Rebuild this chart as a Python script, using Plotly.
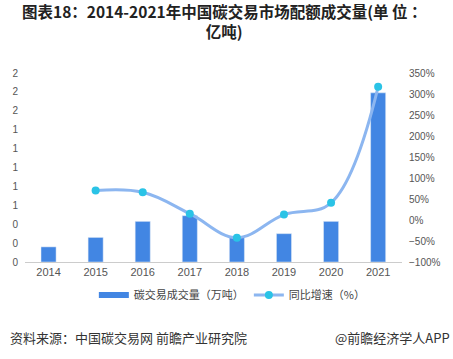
import plotly.graph_objects as go

years = ["2014", "2015", "2016", "2017", "2018", "2019", "2020", "2021"]
volume = [0.16, 0.26, 0.43, 0.49, 0.26, 0.30, 0.43, 1.79]
growth_years = ["2015", "2016", "2017", "2018", "2019", "2020", "2021"]
growth = [70, 66, 15, -42, 13, 41, 317]
left_tickvals = [0, 0.2, 0.4, 0.6, 0.8, 1.0, 1.2, 1.4, 1.6, 1.8, 2.0]
left_ticktext = ["0", "0", "0", "1", "1", "1", "1", "1", "2", "2", "2"]
right_tickvals = [-100, -50, 0, 50, 100, 150, 200, 250, 300, 350]
right_ticktext = ["\u2212100%", "\u221250%", "0%", "50%", "100%", "150%",
                  "200%", "250%", "300%", "350%"]

CJK = "Noto Sans CJK SC, Liberation Sans, sans-serif"
NUM = "Liberation Sans, Arial, sans-serif"
BAR_COLOR = "#4286e3"

fig = go.Figure()
fig.add_trace(go.Bar(
    x=years, y=volume, name="碳交易成交量（万吨）", showlegend=False,
    marker=dict(color=BAR_COLOR), width=0.32, yaxis="y",
))
# legend-only entry giving the wide bar swatch
fig.add_trace(go.Scatter(
    x=[None], y=[None], name="碳交易成交量（万吨）", mode="lines",
    line=dict(color=BAR_COLOR, width=6), yaxis="y",
))
fig.add_trace(go.Scatter(
    x=growth_years, y=growth, name="同比增速（%）", yaxis="y2",
    mode="lines+markers",
    line=dict(color="#8cb6f0", width=3, shape="spline", smoothing=1.1),
    marker=dict(color="#2ac3e6", size=8),
))

fig.update_layout(
    width=453, height=359,
    margin=dict(l=24, r=50, t=73, b=97),
    paper_bgcolor="white", plot_bgcolor="white",
    xaxis=dict(
        type="category", showgrid=False, showline=True, linecolor="#cccccc",
        linewidth=1, ticks="", tickfont=dict(family=NUM, size=11, color="#555"),
    ),
    yaxis=dict(
        range=[0, 2.0], tickvals=left_tickvals, ticktext=left_ticktext,
        showgrid=False, zeroline=False, showline=False,
        tickfont=dict(family=NUM, size=10, color="#555"), ticklabelstandoff=6,
    ),
    yaxis2=dict(
        range=[-100, 350], tickvals=right_tickvals, ticktext=right_ticktext,
        overlaying="y", side="right", showgrid=False, zeroline=False,
        showline=False, tickfont=dict(family=NUM, size=10, color="#555"),
        ticklabelstandoff=6,
    ),
    legend=dict(
        orientation="h", x=0.55, xanchor="center", y=-0.175, yanchor="middle",
        font=dict(family=CJK, size=11, color="#444"), itemwidth=30,
    ),
    showlegend=True,
    annotations=[
        dict(text="<b>图表18：2014-2021年中国碳交易市场配额成交量(单 位 ：<br>亿吨)</b>",
             xref="paper", yref="paper", x=0.53, y=1.273, xanchor="center",
             yanchor="middle", showarrow=False,
             font=dict(family=CJK, size=15.5, color="#222")),
        dict(text="资料来源：中国碳交易网 前瞻产业研究院", xref="paper", yref="paper",
             x=-0.045, y=-0.4, xanchor="left", yanchor="middle", showarrow=False,
             font=dict(family=CJK, size=13, color="#333")),
        dict(text="@前瞻经济学人APP", xref="paper", yref="paper",
             x=1.133, y=-0.4, xanchor="right", yanchor="middle", showarrow=False,
             font=dict(family=CJK, size=13, color="#333")),
    ],
)

fig.write_html("out.html", config={"displayModeBar": False},
               post_script="document.body.style.margin='0';")
